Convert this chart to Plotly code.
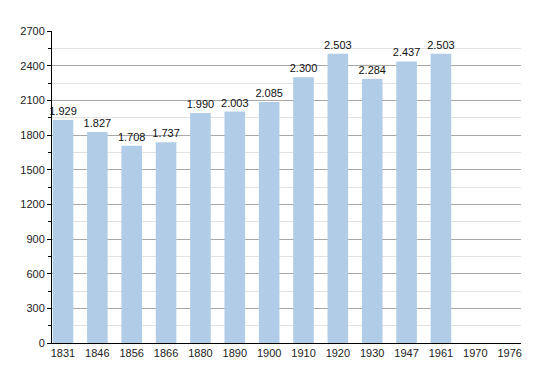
import plotly.graph_objects as go

years = ["1831", "1846", "1856", "1866", "1880", "1890", "1900", "1910", "1920", "1930", "1947", "1961", "1970", "1976"]
population = [1929, 1827, 1708, 1737, 1990, 2003, 2085, 2300, 2503, 2284, 2437, 2503, None, None]
y_ticks = [0, 300, 600, 900, 1200, 1500, 1800, 2100, 2400, 2700]

fig = go.Figure(go.Bar(
    x=years, y=population,
    marker=dict(color="#b1cce6", line=dict(width=0)),
    width=0.6,
    texttemplate="%{y:,}",
    textposition="outside",
    constraintext="none",
    textfont=dict(size=11, color="#111111", family="Liberation Sans"),
    cliponaxis=False,
))

fig.update_layout(
    width=550, height=373,
    margin=dict(l=42, r=37, t=23, b=38),
    paper_bgcolor="white", plot_bgcolor="white",
    separators=",.",
    font=dict(family="Liberation Sans", size=11, color="#222222"),
    showlegend=False,
    bargap=0.4,
)
fig.update_xaxes(
    type="category",
    range=[-0.32, 13.33],
    showline=True, linecolor="black", linewidth=1,
    ticks="", tickfont=dict(size=11, color="#222222"),
    showgrid=False,
)
fig.update_yaxes(
    range=[0, 2700],
    tickvals=y_ticks, tickformat="d",
    showline=True, linecolor="black", linewidth=1,
    ticks="outside", ticklen=4, tickcolor="black",
    tickfont=dict(size=11, color="#222222"),
    showgrid=True, gridcolor="#a8a8a8", gridwidth=1,
    zeroline=False,
    minor=dict(dtick=150, tick0=0, showgrid=True, gridcolor="#e2e2e2", gridwidth=1,
               ticks="outside", ticklen=3, tickcolor="black"),
)

fig.write_html("out.html")
